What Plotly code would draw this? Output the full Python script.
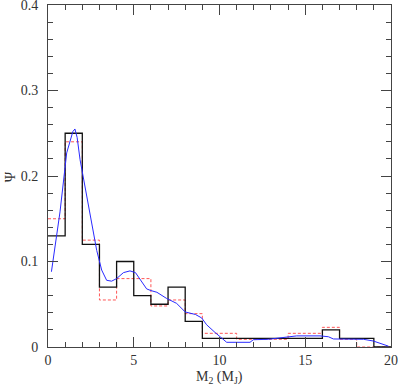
import plotly.graph_objects as go

# bin edges of the histograms (M_J)
bin_edges = list(range(0, 21))

# solid black histogram
hist_black = [0.13, 0.25, 0.12, 0.07, 0.10, 0.06, 0.05, 0.07, 0.03, 0.01,
              0.01, 0.01, 0.01, 0.01, 0.01, 0.01, 0.02, 0.01, 0.01, 0.0]

# dashed red histogram
hist_red = [0.15, 0.24, 0.125, 0.055, 0.08, 0.08, 0.048, 0.055, 0.039, 0.016,
            0.016, 0.009, 0.009, 0.009, 0.016, 0.016, 0.023, 0.009, 0.0, 0.0]

# smooth blue curve
curve_x = [0.2, 0.7, 1.09, 1.28, 1.45, 1.57, 1.7, 1.87, 2.06, 2.26, 2.55, 2.84,
           3.13, 3.42, 3.71, 4.0, 4.4, 4.78, 5.1, 5.4, 5.75, 6.0, 6.35, 6.9,
           7.5, 8.0, 8.6, 8.96, 9.25, 9.74, 10.03, 10.42, 11.78, 11.97, 12.85,
           13.9, 14.5, 15.86, 16.35, 16.64, 17.8, 18.4, 18.97, 19.3, 19.65, 19.85]
curve_y = [0.088, 0.158, 0.227, 0.240, 0.252, 0.255, 0.245, 0.219, 0.199, 0.176,
           0.145, 0.113, 0.09, 0.078, 0.077, 0.08, 0.087, 0.089, 0.087, 0.078,
           0.068, 0.066, 0.064, 0.057, 0.051, 0.041, 0.038, 0.034, 0.026, 0.017,
           0.012, 0.0055, 0.0055, 0.0085, 0.009, 0.011, 0.013, 0.013, 0.012,
           0.0094, 0.0094, 0.009, 0.007, 0.005, 0.0023, 0.001]

# tick labels
y_ticks = [0, 0.1, 0.2, 0.3, 0.4]
y_tick_text = ['0', '0.1', '0.2', '0.3', '0.4']

fig = go.Figure()
fig.add_trace(go.Scatter(
    x=bin_edges, y=hist_red + [hist_red[-1]],
    mode='lines', line=dict(color='#ff5555', width=1, dash='3px,2px', shape='hv'),
))
fig.add_trace(go.Scatter(
    x=bin_edges, y=hist_black + [hist_black[-1]],
    mode='lines', line=dict(color='#111111', width=1.3, shape='hv'),
))
fig.add_trace(go.Scatter(
    x=curve_x, y=curve_y,
    mode='lines', line=dict(color='#2a2aff', width=1),
))

font = dict(family='Liberation Serif', size=14, color='#333333')
axis_common = dict(
    showgrid=False, zeroline=False, showline=True, linecolor='#444444',
    linewidth=1, mirror='ticks', ticks='inside', tickcolor='#444444',
    tickfont=font, automargin=False, ticklabeloverflow='allow',
)
fig.update_xaxes(
    range=[0, 20], dtick=5, ticklen=10,
    minor=dict(dtick=1, ticks='inside', ticklen=5, tickcolor='#444444'),
    **axis_common,
)
fig.update_yaxes(
    range=[0, 0.4], tickmode='array', tickvals=y_ticks, ticktext=y_tick_text,
    ticklen=10,
    minor=dict(tick0=0, dtick=0.02, ticks='inside', ticklen=5, tickcolor='#444444'),
    ticklabelstandoff=6,
    **axis_common,
)

# axis titles as annotations for exact placement
fig.add_annotation(text='M<sub>2</sub> (M<sub>J</sub>)', xref='paper', yref='paper',
                   x=0.5, y=-0.09, yanchor='middle', showarrow=False, font=font)
fig.add_annotation(text='Ψ', xref='paper', yref='paper', textangle=-90,
                   x=-0.11, y=0.497, xanchor='center', yanchor='middle',
                   showarrow=False, font=font)

fig.update_layout(
    width=398, height=388,
    margin=dict(l=48, r=7, t=5, b=41),
    plot_bgcolor='white', paper_bgcolor='white',
    showlegend=False,
)
# drop the browser's default body margin so the figure sits at the page corner
fig.write_html('out.html', config={'displayModeBar': False},
               post_script="document.body.style.margin='0';")
